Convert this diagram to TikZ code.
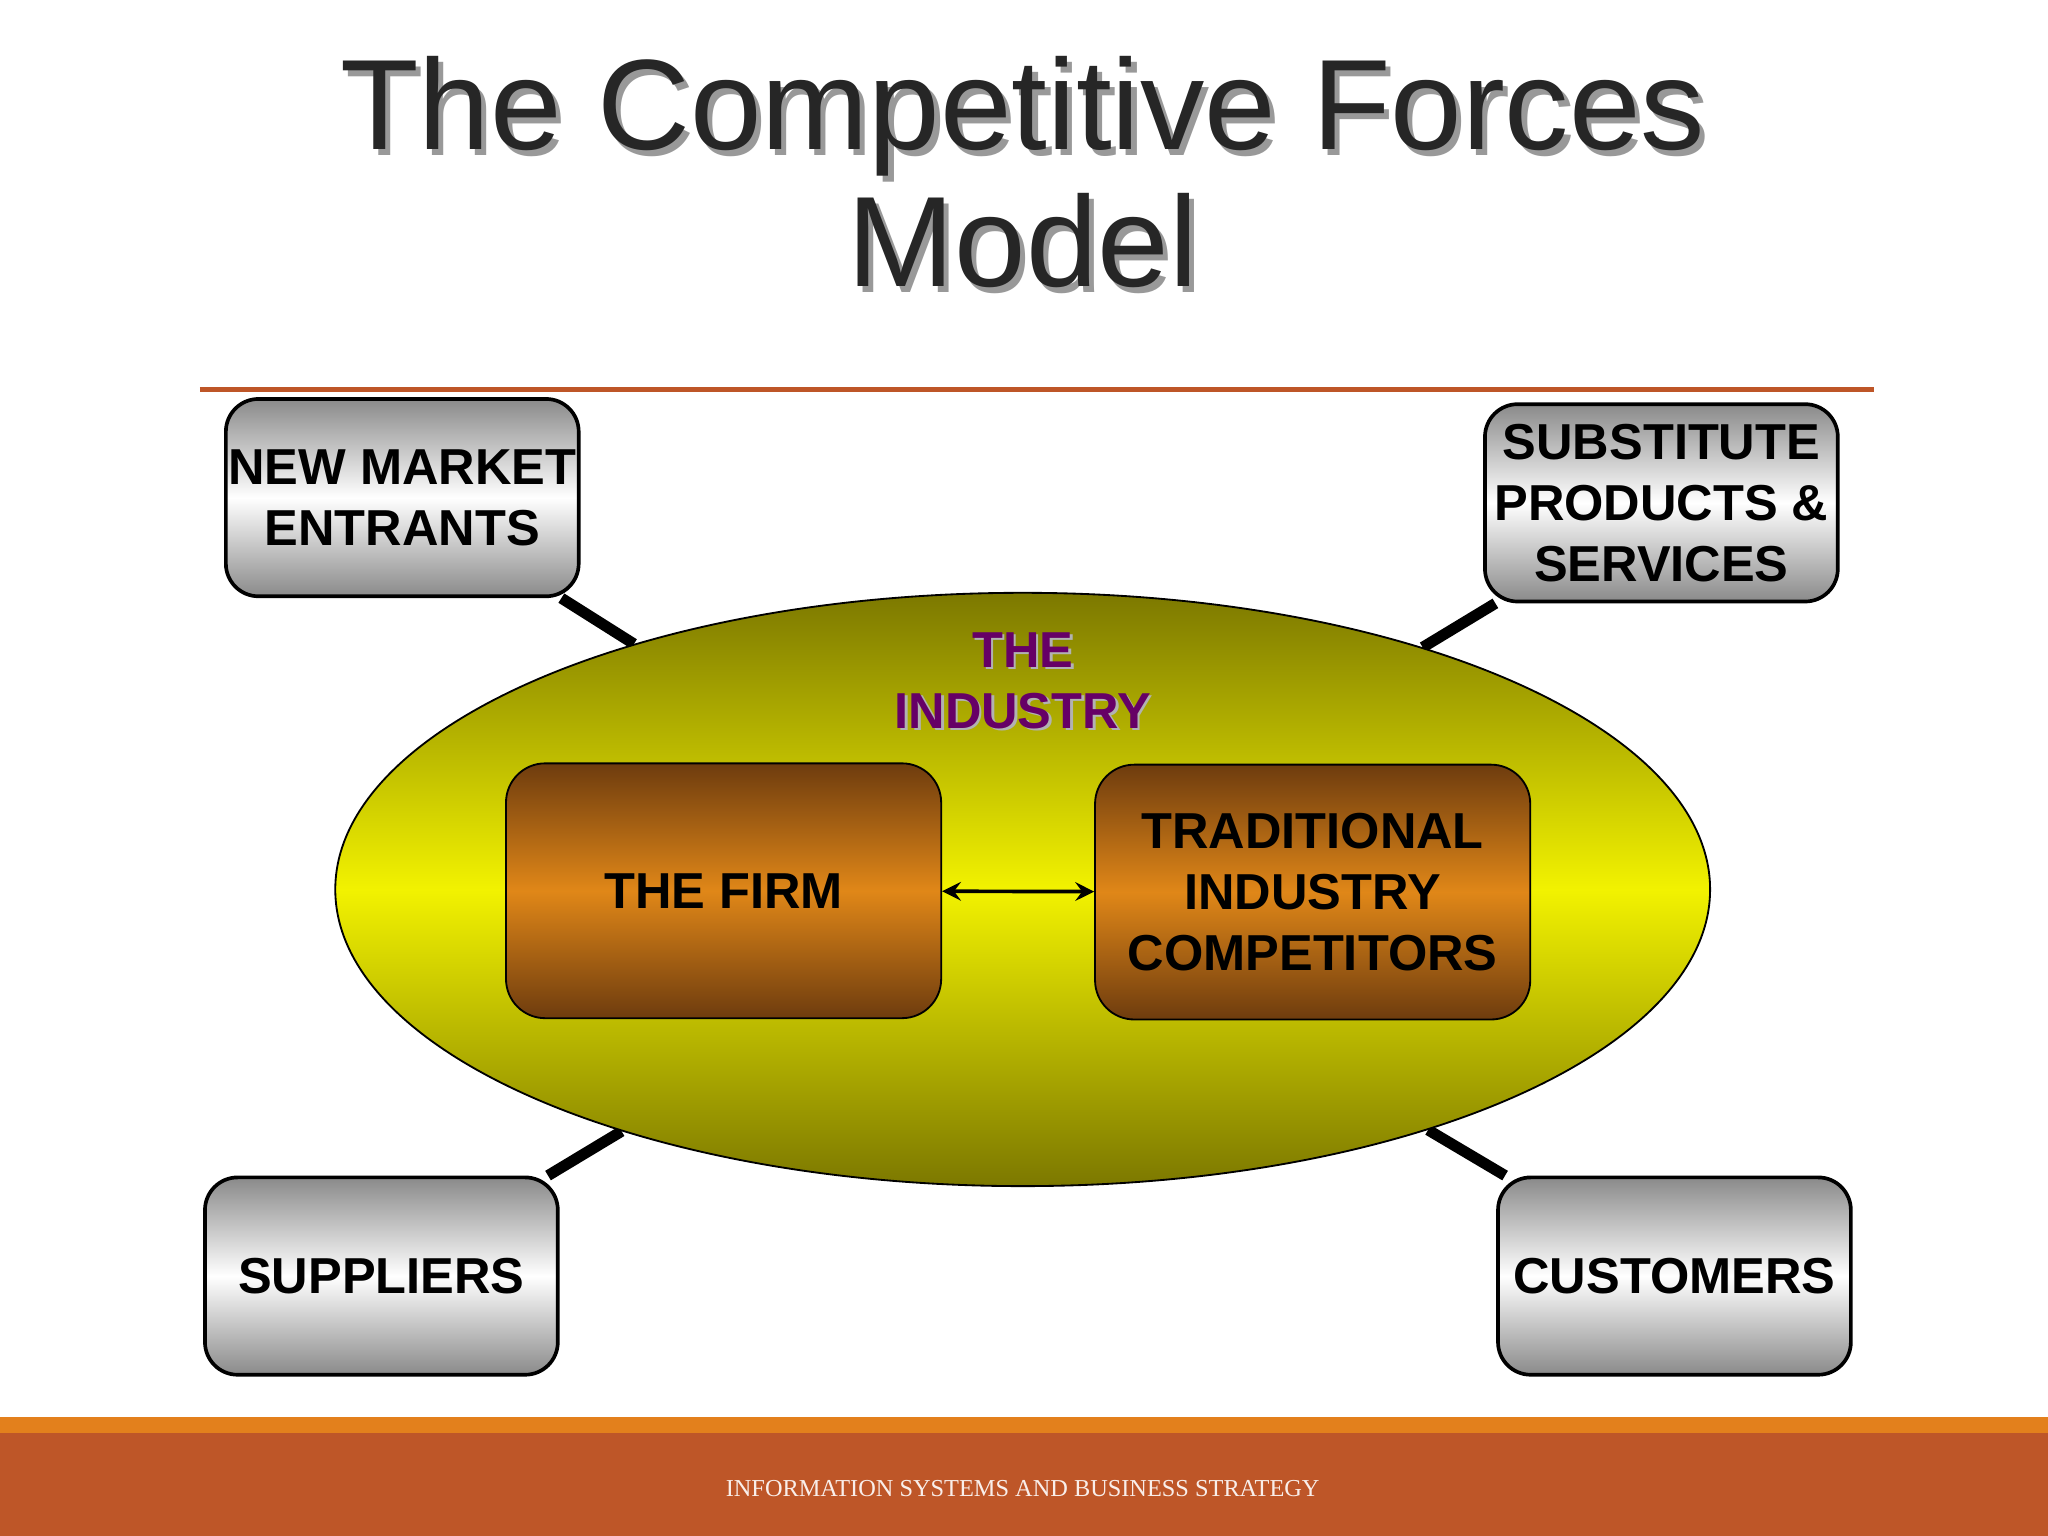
\documentclass[tikz,border=0pt]{standalone}
\usepackage{fontspec}
\setmainfont{Liberation Sans}
\newfontfamily\footfont{Liberation Serif}
\usetikzlibrary{positioning,shapes.geometric,shadings,backgrounds}
\definecolor{rust}{HTML}{BE5628}
\definecolor{band}{HTML}{E3801C}
\definecolor{olive}{HTML}{7C7800}
\definecolor{lemon}{HTML}{F2F200}
\definecolor{brownd}{HTML}{6E3C0E}
\definecolor{brownl}{HTML}{E08718}
\definecolor{grayd}{HTML}{8A8A8A}
\tikzset{
  force/.style={draw=black,thick,rounded corners=0.25cm,minimum width=2.7cm,
    minimum height=1.51cm,align=center,inner sep=0pt,top color=grayd,
    bottom color=grayd,middle color=white,
    font=\fontsize{11}{13.3}\selectfont\bfseries},
  inner/.style={draw=black,thin,rounded corners=0.3cm,minimum width=3.33cm,
    minimum height=1.95cm,align=center,inner sep=0pt,top color=brownd,
    bottom color=brownd,middle color=brownl,
    font=\fontsize{11}{13.3}\selectfont\bfseries},
  spoke/.style={line width=2.4pt,black},
}
\begin{document}
\begin{tikzpicture}[x=0.01cm,y=-0.01cm]
\useasboundingbox (0,0) rectangle (1568,1176);
% footer
\fill[band] (0,1085) rectangle (1568,1097);
\fill[rust] (0,1097) rectangle (1568,1176);
\node[text=white!90!rust,font=\footfont\fontsize{5.3}{6}\selectfont] (foot) at (783,1140)
  {INFORMATION SYSTEMS AND BUSINESS STRATEGY};
% title
\node[text=gray!80,align=center,font=\fontsize{28}{29.8}\selectfont] at (787,136)
  {The Competitive Forces\\Model};
\node[text=black!85,align=center,font=\fontsize{28}{29.8}\selectfont] (title) at (783,132)
  {The Competitive Forces\\Model};
\draw[rust,line width=1pt] (153,298) -- (1435,298);
% the industry
\node[draw=black,thin,ellipse,minimum width=10.52cm,minimum height=4.54cm,
  top color=olive,bottom color=olive,middle color=lemon] (ind) at (783,681) {};
\node[text=gray!60,align=center,font=\fontsize{11}{13.3}\selectfont\bfseries] at (785,523)
  {THE\\INDUSTRY};
\node[text=violet!80!black,align=center,font=\fontsize{11}{13.3}\selectfont\bfseries] (indlab) at (783,521)
  {THE\\INDUSTRY};
\node[inner] (firm) at (554,682) {THE FIRM};
\node[inner] (comp) at (1005,683) {TRADITIONAL\\INDUSTRY\\COMPETITORS};
\draw[<->,>=stealth,thick] (firm) -- (comp);
% outer forces
\node[force] (nme) at (308,381) {NEW MARKET\\ENTRANTS};
\node[force] (sub) at (1272,385) {SUBSTITUTE\\PRODUCTS \&\\SERVICES};
\node[force] (sup) at (292,977) {SUPPLIERS};
\node[force] (cus) at (1282,977) {CUSTOMERS};
\begin{scope}[on background layer]
\draw[spoke] (nme) -- (ind);
\draw[spoke] (sub) -- (ind);
\draw[spoke] (sup) -- (ind);
\draw[spoke] (cus) -- (ind);
\end{scope}
\end{tikzpicture}
\end{document}
